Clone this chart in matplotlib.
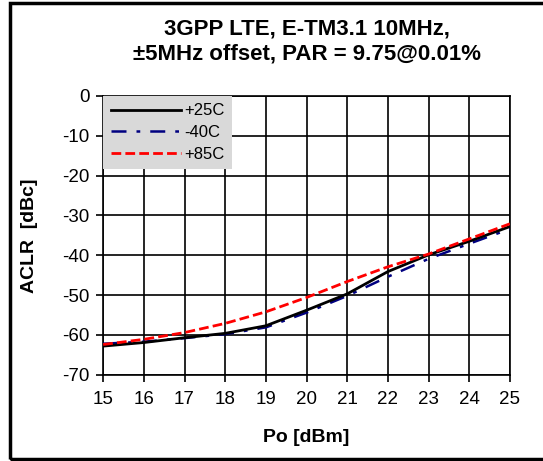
import matplotlib
matplotlib.use("Agg")
import matplotlib.pyplot as plt
from matplotlib.patches import Rectangle

plt.rcParams['font.family'] = ['Liberation Sans', 'DejaVu Sans']
plt.rcParams['axes.unicode_minus'] = False

# ACLR vs output power
po = [15, 16, 17, 18, 19, 20, 21, 22, 23, 24, 25]
aclr_25c = [-62.8, -61.9, -60.7, -59.6, -57.7, -53.8, -49.7, -44.1, -39.9, -36.5, -32.8]
aclr_m40c = [-62.2, -61.7, -60.8, -59.8, -58.1, -54.4, -50.2, -45.4, -40.9, -37.1, -33.4]
aclr_85c = [-62.4, -61.1, -59.4, -57.1, -54.2, -50.6, -46.6, -42.9, -39.7, -35.9, -32.1]

x_ticks = list(range(15, 26))
y_ticks = list(range(-70, 1, 10))

fig = plt.figure(figsize=(5.43, 4.61), dpi=100)
ax = fig.add_axes([0.19, 0.187, 0.749, 0.605])

ax.plot(po, aclr_25c, color='black', lw=2.0, label='+25C', zorder=4)
ax.plot(po, aclr_m40c, color='#000080', lw=1.8, dashes=(6, 4, 1.5, 4), label='-40C', zorder=3)
ax.plot(po, aclr_85c, color='#ff0000', lw=2.0, dashes=(3.5, 1.5), label='+85C', zorder=5)

ax.set_xlim(15, 25)
ax.set_ylim(-70, 0)
ax.set_xticks(x_ticks)
ax.set_yticks(y_ticks)
ax.grid(True, color='black', lw=1.2)
ax.tick_params(direction='out', length=5, width=1.2, labelsize=13.5)
ax.tick_params(axis='x', pad=7)
ax.tick_params(axis='y', pad=5)
for s in ax.spines.values():
    s.set_linewidth(1.2)

ax.set_xlabel('Po [dBm]', fontsize=14, fontweight='bold', labelpad=15)
ax.set_ylabel('ACLR  [dBc]', fontsize=14, fontweight='bold', labelpad=17)
ax.set_title('3GPP LTE, E-TM3.1 10MHz,\n\u00b15MHz offset, PAR = 9.75@0.01%',
             fontsize=16, fontweight='bold', pad=26, linespacing=1.25)

leg = ax.legend(loc='upper left', fontsize=12, frameon=True, fancybox=False,
                borderaxespad=0, handlelength=4.2, handletextpad=0.2,
                labelspacing=0.4, borderpad=0.45)
leg.get_frame().set_facecolor('#d9d9d9')
leg.get_frame().set_edgecolor('none')
leg.get_frame().set_alpha(1)

# outer frame around the whole picture (right edge runs off the image)
W, H = 543, 461
fig.patches.append(Rectangle((10 / W, 1 - 459 / H), 560 / W, 456 / H,
                             transform=fig.transFigure, fill=False,
                             edgecolor='black', lw=2.5, clip_on=False))

fig.savefig('out.png', dpi=100)
